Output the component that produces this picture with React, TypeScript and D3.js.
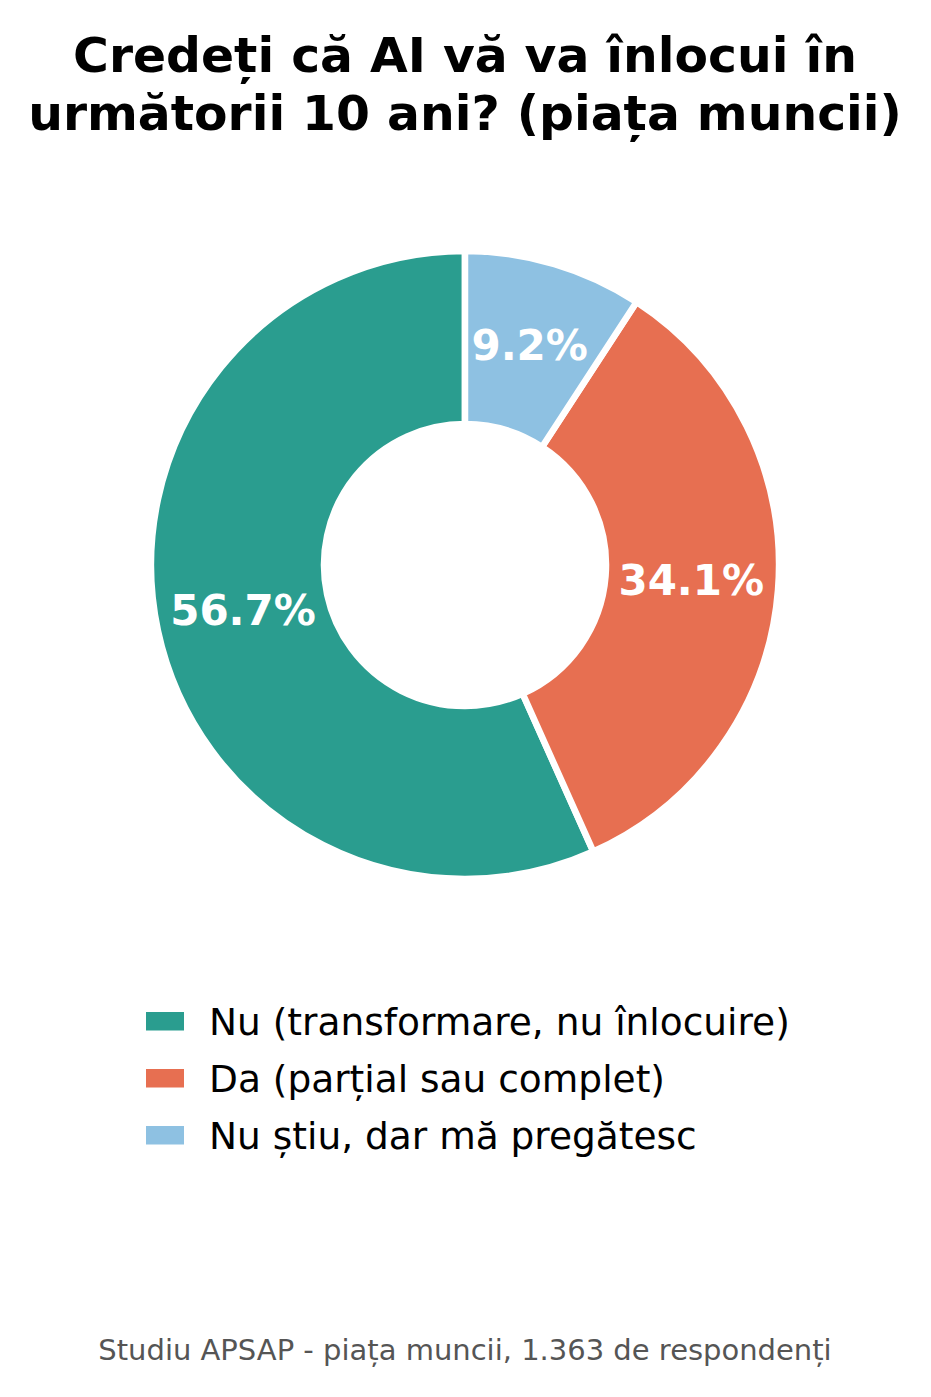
import React from "react";
import * as d3 from "d3";

const categories = [
  "Nu (transformare, nu înlocuire)",
  "Da (parțial sau complet)",
  "Nu știu, dar mă pregătesc",
];
const values = [56.7, 34.1, 9.2];
const colors = ["#2a9d8f", "#e76f51", "#8ec1e2"];
const titleLines = ["Credeți că AI vă va înlocui în", "următorii 10 ani? (piața muncii)"];
const footer = "Studiu APSAP - piața muncii, 1.363 de respondenți";

const W = 931;
const H = 1397;
const cx = 465;
const cy = 565;
const R = 314;
const r0 = 141;

export default function App() {
  const total = d3.sum(values);
  const angle = d3.scaleLinear().domain([0, total]).range([0, 2 * Math.PI]);
  // counterclockwise from top, matplotlib-style
  let cum = 0;
  const slices = values.map((v, i) => {
    const end = -angle(cum);
    const start = -angle(cum + v);
    cum += v;
    return { v, i, startAngle: start, endAngle: end };
  });
  const arc = d3.arc<any>().innerRadius(r0).outerRadius(R);
  const labelR = 227;
  const font = "DejaVu Sans, sans-serif";
  return (
    <svg width={W} height={H} style={{ display: "block", position: "absolute", left: 0, top: 0 }}>
      <rect width={W} height={H} fill="#fff" />
      {titleLines.map((t, k) => (
        <text key={k} x={cx} y={72 + k * 58} textAnchor="middle" fontFamily={font} fontWeight="bold" fontSize={48.8}>
          {t}
        </text>
      ))}
      <g transform={`translate(${cx},${cy})`}>
        {slices.map((s) => (
          <path key={s.i} d={arc(s) as string} fill={colors[s.i]} stroke="#fff" strokeWidth={6.5} strokeLinejoin="round" />
        ))}
        {slices.map((s) => {
          const mid = (s.startAngle + s.endAngle) / 2;
          const x = Math.sin(mid) * labelR;
          const y = -Math.cos(mid) * labelR;
          return (
            <text key={s.i} x={x} y={y} dy="0.3em" textAnchor="middle" fill="#fff" fontFamily={font} fontWeight="bold" fontSize={42}>
              {s.v.toFixed(1)}%
            </text>
          );
        })}
      </g>
      {categories.map((c, i) => (
        <g key={c}>
          <rect x={146} y={1012 + i * 57} width={38} height={18.5} fill={colors[i]} />
          <text x={209} y={1035 + i * 57} fontFamily={font} fontSize={37.5} fill="#000">
            {c}
          </text>
        </g>
      ))}
      <text x={cx} y={1360} textAnchor="middle" fontFamily={font} fontSize={29} fill="#555">
        {footer}
      </text>
    </svg>
  );
}
